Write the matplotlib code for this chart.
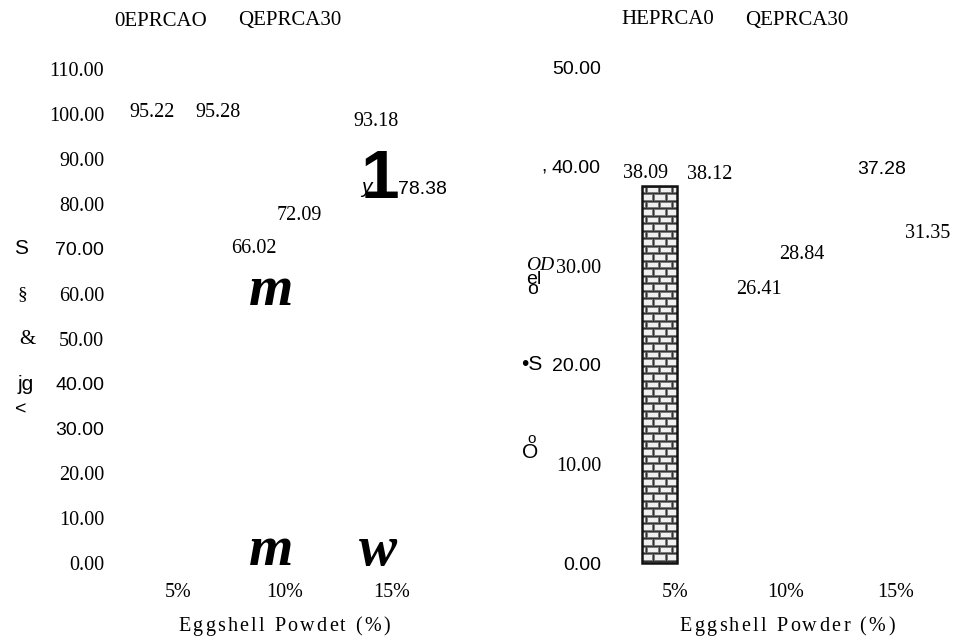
import matplotlib
matplotlib.use("Agg")
import matplotlib.pyplot as plt
from matplotlib.font_manager import FontProperties
from matplotlib.patches import Rectangle

# ---------------- data ----------------
groups = ["5%", "10%", "15%"]
left_eprca0 = [95.22, 66.02, 93.18]
left_eprca30 = [95.28, 72.09, 78.38]
right_eprca0 = [38.09, 26.41, 37.28]
right_eprca30 = [38.12, 28.84, 31.35]
left_yticks = [0, 10, 20, 30, 40, 50, 60, 70, 80, 90, 100, 110]
right_yticks = [0, 10, 20, 30, 40, 50]
left_legend = ["0EPRCAO", "QEPRCA30"]
right_legend = ["HEPRCA0", "QEPRCA30"]
left_xlabel = "Eggshell Powdet (%)"
right_xlabel = "Eggshell Powder (%)"
left_axis_glyphs = ["S", "\u00a7", "&", "jg", "<"]
right_axis_glyphs = [",", "OD", "el", "o", "\u2022S", "o", "O"]
plot_glyphs = ["1", "y", "m", "m", "w"]

# ---------------- style / layout ----------------
SERIF = "Liberation Serif"
SANS = "Liberation Sans"
plt.rcParams["font.family"] = [SERIF, "DejaVu Serif"]
W, H, DPI = 956, 641, 100
PT = 72.0 / DPI  # points per pixel

fig = plt.figure(figsize=(W / DPI, H / DPI), dpi=DPI)
fig.patch.set_facecolor("white")


def fx(x):
    return x / W


def fy(y):
    return 1 - y / H


def add_axes_px(x0, x1, y0, y1):
    return fig.add_axes([x0 / W, 1 - y1 / H, (x1 - x0) / W, (y1 - y0) / H])


def ptext(x, y, s, family=SERIF, size=14, **kw):
    kw.setdefault("ha", "center")
    kw.setdefault("va", "center")
    return fig.text(fx(x), fy(y), s, family=family, fontsize=size, **kw)


BAR_OFF = 0.14
BAR_W = 0.31

panels = [
    dict(x0=178, pxx=107.0, y0=563, pxy=4.49, ax_px=(120, 470, 40, 575),
         d0=left_eprca0, d1=left_eprca30, yticks=left_yticks,
         sans_ticks={70, 40, 30}, tick_pad=16,
         dx0=[-11, -16, -1], dy0=[-22.5, -17.6, -23.6],
         dx1=[25, -1, 15], dy1=[-22.2, -24.3, -21.1],
         f0=[SERIF, SERIF, SERIF], f1=[SERIF, SERIF, SANS],
         brick=[]),
    dict(x0=675, pxx=110.5, y0=563, pxy=9.9, ax_px=(615, 955, 40, 575),
         d0=right_eprca0, d1=right_eprca30, yticks=right_yticks,
         sans_ticks={50, 40, 20, 0}, tick_pad=14,
         dx0=[-13.5, -11, 1.5], dy0=[-12, -12.5, -24],
         dx1=[19.5, 1, 16.5], dy1=[-11.6, -22.5, -19.6],
         f0=[SERIF, SERIF, SANS], f1=[SERIF, SERIF, SERIF],
         brick=[0]),
]


def brick_fill(ax, patch, pxx, pxy, bw_px=13.0, bh_px=7.5, gap_px=2.0):
    x0, y0 = patch.get_x(), patch.get_y()
    w, h = patch.get_width(), patch.get_height()
    bw, bh = bw_px / pxx, bh_px / pxy
    gx, gy = gap_px / pxx, gap_px / pxy
    top = y0 + h
    r = 0
    while top - r * bh > y0:
        yb = top - (r + 1) * bh
        xs = x0 - bw * 0.7 + (bw / 2) * (r % 2)
        while xs < x0 + w:
            rect = Rectangle((xs + gx / 2, yb + gy / 2), bw - gx, bh - gy,
                             facecolor="#f0f0f0", edgecolor="#7a7a7a",
                             linewidth=0.7, zorder=3)
            ax.add_patch(rect)
            rect.set_clip_path(patch)
            xs += bw
        r += 1
    ax.add_patch(Rectangle((x0, y0), w, h, facecolor="none",
                           edgecolor="#111111", linewidth=1.8, zorder=4))


for p in panels:
    a0, a1, b0, b1 = p["ax_px"]
    ax = add_axes_px(a0, a1, b0, b1)
    ax.set_xlim((a0 - p["x0"]) / p["pxx"], (a1 - p["x0"]) / p["pxx"])
    ax.set_ylim((p["y0"] - b1) / p["pxy"], (p["y0"] - b0) / p["pxy"])
    for s in ax.spines.values():
        s.set_visible(False)
    ax.set_facecolor("none")
    xs = list(range(len(groups)))
    bars0 = ax.bar([x - BAR_OFF for x in xs], p["d0"], BAR_W,
                   facecolor="none", edgecolor="none", zorder=2)
    bars1 = ax.bar([x + BAR_OFF for x in xs], p["d1"], BAR_W,
                   facecolor="none", edgecolor="none", zorder=2)
    for i in p["brick"]:
        b = bars0[i]
        b.set_facecolor("#333333")
        brick_fill(ax, b, p["pxx"], p["pxy"])

    # ticks
    ax.set_yticks(p["yticks"])
    ax.set_yticklabels([f"{v:.2f}" for v in p["yticks"]])
    for v, lab in zip(p["yticks"], ax.get_yticklabels()):
        lab.set_fontfamily(SANS if v in p["sans_ticks"] else SERIF)
        lab.set_fontsize(14 if v in p["sans_ticks"] else 14.5)
    ax.tick_params(axis="y", length=0, pad=p["tick_pad"] * PT)
    ax.set_xticks(xs)
    ax.set_xticklabels(groups, fontsize=14.5, family=SERIF)
    ax.tick_params(axis="x", length=0, pad=6)

    # value labels
    for bars, vals, dxs, dys, fams in ((bars0, p["d0"], p["dx0"], p["dy0"], p["f0"]),
                                       (bars1, p["d1"], p["dx1"], p["dy1"], p["f1"])):
        for b, v, dx, dy, fam in zip(bars, vals, dxs, dys, fams):
            ax.annotate(f"{v:.2f}", xy=(b.get_x() + b.get_width() / 2, v),
                        xytext=(dx * PT, -dy * PT), textcoords="offset points",
                        ha="center", va="center", family=fam,
                        fontsize=14 if fam == SANS else 14.5)

# legends (text only)
for s, x in zip(left_legend, [160.5, 289.5]):
    ptext(x, 21, s, SERIF, 15)
for s, x in zip(right_legend, [667.5, 797]):
    ptext(x, 20, s, SERIF, 15)


# letter-spaced x-axis titles
def spaced_text(cx, cy, s, target_w, family=SERIF, size=14.5):
    fp = FontProperties(family=family, size=size)
    r = fig.canvas.get_renderer()

    def wid(t):
        return r.get_text_width_height_descent(t, fp, ismath=False)[0]

    sp = wid("a a") - wid("aa")
    widths = [sp if ch == " " else wid(ch) for ch in s]
    gap = (target_w - sum(widths)) / (len(s) - 1)
    x = cx - target_w / 2
    for ch, w in zip(s, widths):
        if ch != " ":
            fig.text(fx(x), fy(cy), ch, family=family, fontsize=size,
                     ha="left", va="baseline")
        x += w + gap


spaced_text(284, 631, left_xlabel, 212)
spaced_text(787, 631, right_xlabel, 215)

# OCR glyph artefacts along the y axes
lg_pos = [(21.5, 248, SANS, 15), (22, 295, SERIF, 14), (27, 339, SERIF, 15),
          (26, 384, SANS, 15), (21, 410, SANS, 14)]
for s, (x, y, fam, sz) in zip(left_axis_glyphs, lg_pos):
    ptext(x, y, s, fam, sz)

rg_pos = [(544, 167, SANS, 14, "normal"), (540, 266, SERIF, 14, "italic"),
          (534, 279, SANS, 14, "normal"), (533, 290, SANS, 14, "normal"),
          (532, 365, SANS, 15, "normal"), (532, 439, SANS, 11, "normal"),
          (530, 453, SANS, 15, "normal")]
for s, (x, y, fam, sz, st) in zip(right_axis_glyphs, rg_pos):
    ptext(x, y, s, fam, sz, style=st)

# OCR glyph artefacts inside left plot (baseline positioned)
pg_pos = [(380, 198, SANS, 50, "normal", "bold"),
          (366, 193, SANS, 15, "italic", "normal"),
          (271, 305, SERIF, 41, "italic", "bold"),
          (271, 565, SERIF, 41, "italic", "bold"),
          (378, 565, SERIF, 41, "italic", "bold")]
for s, (x, y, fam, sz, st, wt) in zip(plot_glyphs, pg_pos):
    ptext(x, y, s, fam, sz, style=st, weight=wt, va="baseline")

fig.savefig("out.png", dpi=DPI, facecolor="white")
